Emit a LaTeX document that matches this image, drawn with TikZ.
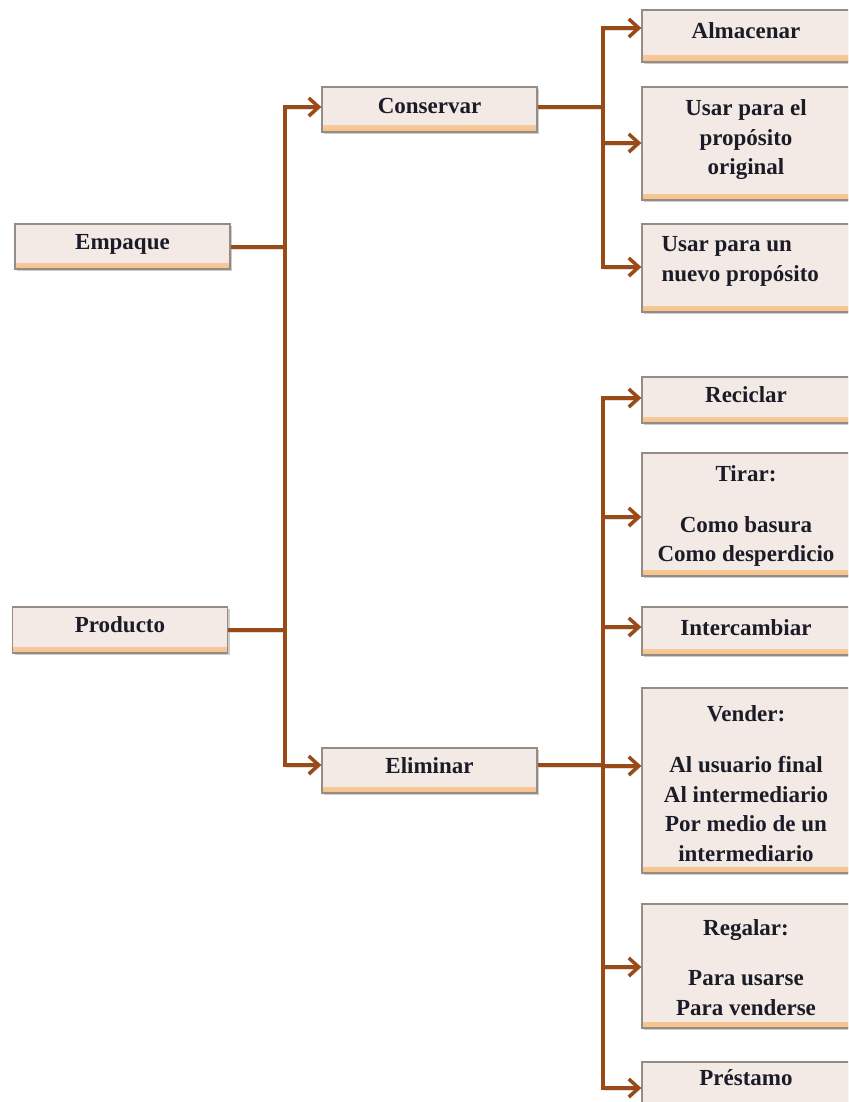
\documentclass[tikz,border=0pt]{standalone}
\usepackage{fontspec}
\setmainfont{Liberation Serif}
\usetikzlibrary{arrows.meta,shadows}

\definecolor{linkbrown}{HTML}{9A4A16}
\definecolor{boxfill}{HTML}{F3EAE5}
\definecolor{boxedge}{HTML}{958C86}
\definecolor{peach}{HTML}{F6C48E}
\definecolor{ink}{HTML}{1C1C28}

\tikzset{
  box/.style={rectangle, draw=boxedge, line width=1.3pt, fill=boxfill, inner sep=0pt,
    general shadow={fill=black, opacity=.2, shadow xshift=2pt, shadow yshift=-2pt},
    path picture={
      \shade[bottom color=peach, top color=boxfill]
        (path picture bounding box.south west)
        rectangle ([yshift=6pt]path picture bounding box.south east);
      \fill[peach] (path picture bounding box.south west)
        rectangle ([yshift=2.5pt]path picture bounding box.south east);}},
  lwide/.style={box, minimum width=215pt},
  rwide/.style={box, minimum width=208pt},
  lbl/.style={font=\fontsize{23}{29.5}\selectfont\bfseries, text=ink, align=center, inner sep=0pt},
  lbl1/.style={lbl, text height=16pt, text depth=5pt},
  link/.style={draw=linkbrown, line width=3.5pt,
    preaction={draw=black, opacity=.13, transform canvas={xshift=1pt, yshift=-2pt}}},
  trunk/.style={link, line cap=rect},
  arr/.style={link, -{Straight Barb[length=10pt, width=18pt]}}
}

\begin{document}
\begin{tikzpicture}[x=1pt, y=-1pt]
\useasboundingbox (0,0) rectangle (848,1102);
\clip (0,0) rectangle (848,1102);

% first column
\node[lwide, minimum height=45pt] (emp)  at (122.5,246.5) {};
\node[lwide, minimum height=46pt] (prod) at (120,630) {};
% second column
\node[lwide, minimum height=45pt] (cons) at (429.5,109.5) {};
\node[lwide, minimum height=45pt] (elim) at (429.5,770.5) {};
% third column
\node[rwide, minimum height=52pt]  (alm)  at (746,36) {};
\node[rwide, minimum height=113pt] (orig) at (746,143.5) {};
\node[rwide, minimum height=88pt]  (nuevo) at (746,268) {};
\node[rwide, minimum height=46pt]  (rec)  at (746,400) {};
\node[rwide, minimum height=123pt] (tirar) at (746,514.5) {};
\node[rwide, minimum height=48pt]  (inter) at (746,631) {};
\node[rwide, minimum height=185pt] (vend) at (746,780.5) {};
\node[rwide, minimum height=124pt] (regal) at (746,966) {};
\node[rwide, minimum height=48pt]  (prest) at (746,1086) {};

% labels
\node[lbl1] (emp-t)  at ([yshift=2.5pt]emp.center)  {Empaque};
\node[lbl1] (prod-t) at ([yshift=3pt]prod.center)   {Producto};
\node[lbl1] (cons-t) at ([yshift=1.5pt]cons.center) {Conservar};
\node[lbl1] (elim-t) at ([yshift=3pt]elim.center)   {Eliminar};
\node[lbl1] (alm-t)  at ([yshift=3pt]alm.center)    {Almacenar};
\node[lbl]  (orig-t) at ([yshift=3.5pt]orig.center) {Usar para el\\propósito\\original};
\node[lbl, align=left, anchor=west] (nuevo-t) at ([xshift=20pt,yshift=6.5pt]nuevo.west)
  {Usar para un\\nuevo propósito};
\node[lbl1] (rec-t)  at ([yshift=3pt]rec.center)    {Reciclar};
\node[lbl]  (tirar-t) at ([yshift=-1.5pt]tirar.center)
  {Tirar:\\[21pt]Como basura\\Como desperdicio};
\node[lbl1] (inter-t) at ([yshift=1pt]inter.center) {Intercambiar};
\node[lbl]  (vend-t) at ([yshift=-3pt]vend.center)
  {Vender:\\[22pt]Al usuario final\\Al intermediario\\Por medio de un\\intermediario};
\node[lbl]  (regal-t) at ([yshift=-1.5pt]regal.center)
  {Regalar:\\[21pt]Para usarse\\Para venderse};
\node[lbl1] (prest-t) at ([yshift=6pt]prest.center) {Préstamo};

% junction columns
\coordinate (j1) at (285,0);
\coordinate (j2) at (603,0);

% entry and exit points on the boxes
\coordinate (emp-out)  at ([yshift=-0.5pt]emp.east);
\coordinate (prod-out) at (prod.east);
\coordinate (cons-in)  at ([yshift=2.5pt]cons.west);
\coordinate (elim-in)  at ([yshift=5.5pt]elim.west);
\coordinate (cons-out) at ([yshift=2.5pt]cons.east);
\coordinate (elim-out) at ([yshift=5.5pt]elim.east);
\coordinate (alm-in)   at ([yshift=8pt]alm.west);
\coordinate (orig-in)  at ([yshift=0.5pt]orig.west);
\coordinate (nuevo-in) at ([yshift=1pt]nuevo.west);
\coordinate (rec-in)   at ([yshift=2pt]rec.west);
\coordinate (tirar-in) at ([yshift=-2.5pt]tirar.west);
\coordinate (inter-in) at ([yshift=4pt]inter.west);
\coordinate (vend-in)  at ([yshift=14.5pt]vend.west);
\coordinate (regal-in) at ([yshift=-1pt]regal.west);
\coordinate (prest-in) at ([yshift=-2pt]prest.west);

% Empaque / Producto -> Conservar / Eliminar
\draw[link] (emp-out) -- (emp-out -| j1);
\draw[link] (prod-out) -- (prod-out -| j1);
\draw[trunk] (j1 |- cons-in) -- (j1 |- elim-in);
\draw[arr] (j1 |- cons-in) -- (cons-in);
\draw[arr] (j1 |- elim-in) -- (elim-in);

% Conservar -> options
\draw[link] (cons-out) -- (cons-out -| j2);
\draw[trunk] (j2 |- alm-in) -- (j2 |- nuevo-in);
\draw[arr] (j2 |- alm-in) -- (alm-in);
\draw[arr] (j2 |- orig-in) -- (orig-in);
\draw[arr] (j2 |- nuevo-in) -- (nuevo-in);

% Eliminar -> options
\draw[link] (elim-out) -- (elim-out -| j2);
\draw[trunk] (j2 |- rec-in) -- (j2 |- prest-in);
\draw[arr] (j2 |- rec-in) -- (rec-in);
\draw[arr] (j2 |- tirar-in) -- (tirar-in);
\draw[arr] (j2 |- inter-in) -- (inter-in);
\draw[arr] (j2 |- vend-in) -- (vend-in);
\draw[arr] (j2 |- regal-in) -- (regal-in);
\draw[arr] (j2 |- prest-in) -- (prest-in);
\end{tikzpicture}
\end{document}
